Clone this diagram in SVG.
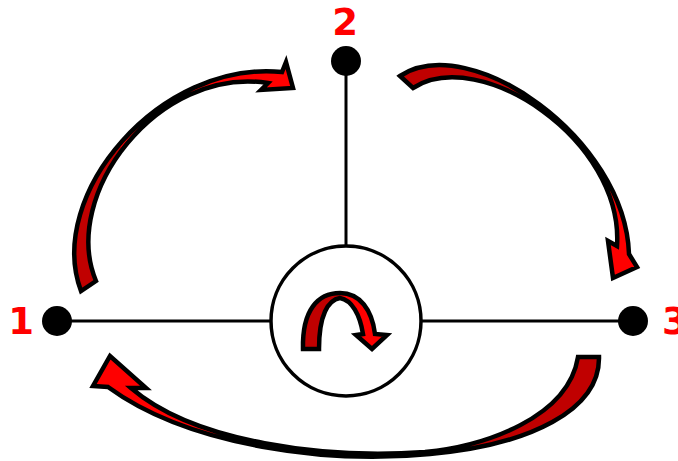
<svg xmlns="http://www.w3.org/2000/svg" width="678" height="461" viewBox="0 0 678 461">
  <style>
    .ln{stroke:#000;stroke-width:3;fill:none}
    .ring{stroke:#000;stroke-width:3.5;fill:#fff}
    .dot{fill:#000}
    .lbl{font-family:"DejaVu Sans","Liberation Sans",sans-serif;font-weight:bold;font-size:37px;fill:#FF0000}
    .arr{stroke:#000;stroke-width:4.5;stroke-linejoin:miter;stroke-miterlimit:10}
  </style>
  <defs>
    <linearGradient id="gA" gradientUnits="userSpaceOnUse" x1="85" y1="285" x2="290" y2="75">
      <stop offset="0" stop-color="#C00000"/><stop offset="0.42" stop-color="#C00000"/>
      <stop offset="0.42" stop-color="#FF0000"/><stop offset="1" stop-color="#FF0000"/>
    </linearGradient>
    <linearGradient id="gB" gradientUnits="userSpaceOnUse" x1="405" y1="80" x2="620" y2="270">
      <stop offset="0" stop-color="#C00000"/><stop offset="0.5" stop-color="#C00000"/>
      <stop offset="0.5" stop-color="#FF0000"/><stop offset="1" stop-color="#FF0000"/>
    </linearGradient>
    <linearGradient id="gC" gradientUnits="userSpaceOnUse" x1="600" y1="0" x2="100" y2="0">
      <stop offset="0" stop-color="#C00000"/><stop offset="0.5" stop-color="#C00000"/>
      <stop offset="0.5" stop-color="#FF0000"/><stop offset="1" stop-color="#FF0000"/>
    </linearGradient>
    <linearGradient id="gU" gradientUnits="userSpaceOnUse" x1="300" y1="0" x2="390" y2="0">
      <stop offset="0" stop-color="#C00000"/><stop offset="0.44" stop-color="#C00000"/>
      <stop offset="0.44" stop-color="#FF0000"/><stop offset="1" stop-color="#FF0000"/>
    </linearGradient>
  </defs>
  <rect width="678" height="461" fill="#fff"/>
  <g id="connectors">
    <line class="ln" x1="57" y1="321" x2="271" y2="321"/>
    <line class="ln" x1="421" y1="321" x2="633" y2="321"/>
    <line class="ln" x1="346" y1="61" x2="346" y2="246"/>
  </g>
  <g id="hub">
    <circle class="ring" cx="346" cy="321" r="75"/>
    <path class="arr" fill="url(#gU)" d="M303,349 C302,310 318,293 340,293 C360,293 372,310 375,334 L387,335 L372,349 L356,335 L363,334 C360,315 352,300 340,298 C328,300 319,315 319,349 Z"/>
  </g>
  <g id="node1">
    <circle class="dot" cx="57" cy="321" r="15"/>
    <text class="lbl" x="21" y="334" text-anchor="middle">1</text>
  </g>
  <g id="node2">
    <circle class="dot" cx="346" cy="61" r="15"/>
    <text class="lbl" x="345" y="35" text-anchor="middle">2</text>
  </g>
  <g id="node3">
    <circle class="dot" cx="633" cy="321" r="15"/>
    <text class="lbl" x="662" y="334">3</text>
  </g>
  <g id="flow-arrows">
    <path class="arr" fill="url(#gA)" d="M81,291 C45,195 160,60 282,72 L286,62 L293,88 L261,90 L268,83 C158,66 60,195 96,281 Z"/>
    <path class="arr" fill="url(#gB)" d="M400,76 C470,30 625,138 629,254 L637,267 L613,278 L608,241 L617,246 C624,140 480,45 413,88 Z"/>
    <path class="arr" fill="url(#gC)" d="M599,357 C600,410 530,445 430,454 C330,464 190,447 108,387 L93,386 L110,356 L146,388 L131,388 C195,443 325,459 425,452 C485,446 568,418 578,357 Z"/>
  </g>
</svg>
